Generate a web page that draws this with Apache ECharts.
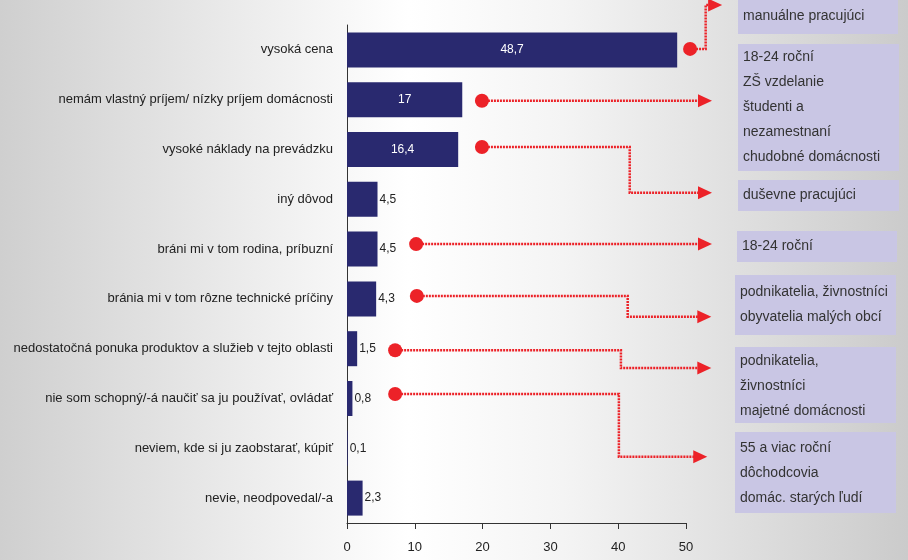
<!DOCTYPE html>
<html>
<head>
<meta charset="utf-8">
<script src="https://cdn.jsdelivr.net/npm/echarts@6/dist/echarts.min.js"></script>
<style>
  html, body { margin: 0; padding: 0; }
  #chart { width: 908px; height: 560px; }
</style>
</head>
<body>
<div id="chart"></div>
<script>
// Reasons for not using the service (%)
var categories = [
  'vysoká cena',
  'nemám vlastný príjem/ nízky príjem domácnosti',
  'vysoké náklady na prevádzku',
  'iný dôvod',
  'bráni mi v tom rodina, príbuzní',
  'bránia mi v tom rôzne technické príčiny',
  'nedostatočná ponuka produktov a služieb v tejto oblasti',
  'nie som schopný/-á naučiť sa ju používať, ovládať',
  'neviem, kde si ju zaobstarať, kúpiť',
  'nevie, neodpovedal/-a'
];
var values = [48.7, 17, 16.4, 4.5, 4.5, 4.3, 1.5, 0.8, 0.1, 2.3];
var xTicks = [0, 10, 20, 30, 40, 50];

// Callout connectors: [value, row] points (row 0..10 runs top to bottom)
var calloutPaths = [
  [[50.6, 0.48], [52.9, 0.48], [52.9, -0.4], [54.3, -0.4]],
  [[19.9, 1.52], [52.8, 1.52]],
  [[19.9, 2.45], [41.7, 2.45], [41.7, 3.37], [52.8, 3.37]],
  [[10.2, 4.4], [52.8, 4.4]],
  [[10.3, 5.44], [41.4, 5.44], [41.4, 5.86], [52.7, 5.86]],
  [[7.1, 6.53], [40.4, 6.53], [40.4, 6.89], [52.7, 6.89]],
  [[7.1, 7.41], [40.1, 7.41], [40.1, 8.67], [52.1, 8.67]]
];

// Group descriptions in the side boxes
var groupTexts = [
  ['manuálne pracujúci'],
  ['18-24 roční', 'ZŠ vzdelanie', 'študenti a', 'nezamestnaní', 'chudobné domácnosti'],
  ['duševne pracujúci'],
  ['18-24 roční'],
  ['podnikatelia, živnostníci', 'obyvatelia malých obcí'],
  ['podnikatelia,', 'živnostníci', 'majetné domácnosti'],
  ['55 a viac roční', 'dôchodcovia', 'domác. starých ľudí']
];

var FONT = '"Liberation Sans", Arial, sans-serif';
var RED = '#ec2228';

function fmt(v) { return String(v).replace('.', ','); }

// Side box frames
var boxFrames = [
  { x: 738, y: -40, w: 160, h: 74, firstY: 16 },
  { x: 738, y: 44, w: 161, h: 127, firstY: 57 },
  { x: 738, y: 180, w: 161, h: 31, firstY: 195 },
  { x: 737, y: 231, w: 160, h: 31, firstY: 246 },
  { x: 735, y: 275, w: 161, h: 60, firstY: 292 },
  { x: 735, y: 347, w: 161, h: 76, firstY: 361 },
  { x: 735, y: 432, w: 161, h: 81, firstY: 448 }
];

var graphics = [];
boxFrames.forEach(function (b, i) {
  graphics.push({
    type: 'rect', z: 1,
    shape: { x: b.x, y: b.y, width: b.w, height: b.h },
    style: { fill: '#c9c6e4' }
  });
  groupTexts[i].forEach(function (line, k) {
    graphics.push({
      type: 'text', z: 2,
      x: b.x + 5, y: b.firstY + k * 25,
      style: {
        text: line, fill: '#333333', font: '14px ' + FONT,
        textVerticalAlign: 'middle', textAlign: 'left'
      }
    });
  });
});

var chart = echarts.init(document.getElementById('chart'));
chart.setOption({
  animation: false,
  backgroundColor: {
    type: 'linear', x: 0, y: 0, x2: 1, y2: 0,
    colorStops: [
      { offset: 0, color: '#cfcfcf' },
      { offset: 0.45, color: '#ffffff' },
      { offset: 0.62, color: '#f4f4f4' },
      { offset: 1, color: '#cbcbcb' }
    ]
  },
  grid: { left: 347, right: 222, top: 25, bottom: 37, containLabel: false },
  xAxis: {
    type: 'value', min: 0, max: 50, interval: 10,
    axisLine: { show: true, onZero: false, lineStyle: { color: '#333', width: 1 } },
    axisTick: { show: true, length: 6, lineStyle: { color: '#333' } },
    axisLabel: { color: '#222', fontSize: 13, fontFamily: FONT, margin: 18 },
    splitLine: { show: false }
  },
  yAxis: [
    {
      type: 'category', data: categories, inverse: true,
      axisLine: { show: true, onZero: false, lineStyle: { color: '#333', width: 1 } },
      axisTick: { show: false },
      axisLabel: { color: '#222', fontSize: 13, fontFamily: FONT, margin: 14 }
    },
    {
      type: 'value', min: 0, max: 10, inverse: true, show: false
    }
  ],
  graphic: graphics,
  series: [
    {
      type: 'bar',
      data: values.map(function (v) {
        var inside = v > 10;
        return {
          value: v,
          label: inside
            ? { position: 'inside', color: '#ffffff' }
            : { position: 'right', color: '#222222', distance: 2 }
        };
      }),
      barWidth: 35,
      itemStyle: { color: '#29296f' },
      label: {
        show: true, fontSize: 12, fontFamily: FONT,
        formatter: function (p) { return fmt(p.value); }
      }
    },
    {
      type: 'lines',
      coordinateSystem: 'cartesian2d',
      xAxisIndex: 0, yAxisIndex: 1,
      polyline: true,
      clip: false,
      lineStyle: { color: RED, width: 2.5, type: [2, 1], opacity: 1 },
      data: calloutPaths.map(function (p) { return { coords: p }; }),
      z: 5
    },
    {
      // dots at the start of each connector
      type: 'scatter',
      xAxisIndex: 0, yAxisIndex: 1,
      clip: false,
      symbolSize: 14,
      itemStyle: { color: RED, opacity: 1 },
      data: calloutPaths.map(function (p) { return p[0]; }),
      z: 6
    },
    {
      // arrowheads at the end of each connector
      type: 'scatter',
      xAxisIndex: 0, yAxisIndex: 1,
      clip: false,
      symbol: 'triangle',
      symbolSize: [13, 14],
      symbolRotate: -90,
      itemStyle: { color: RED, opacity: 1 },
      data: calloutPaths.map(function (p) { return p[p.length - 1]; }),
      z: 6
    }
  ]
});
</script>
</body>
</html>
